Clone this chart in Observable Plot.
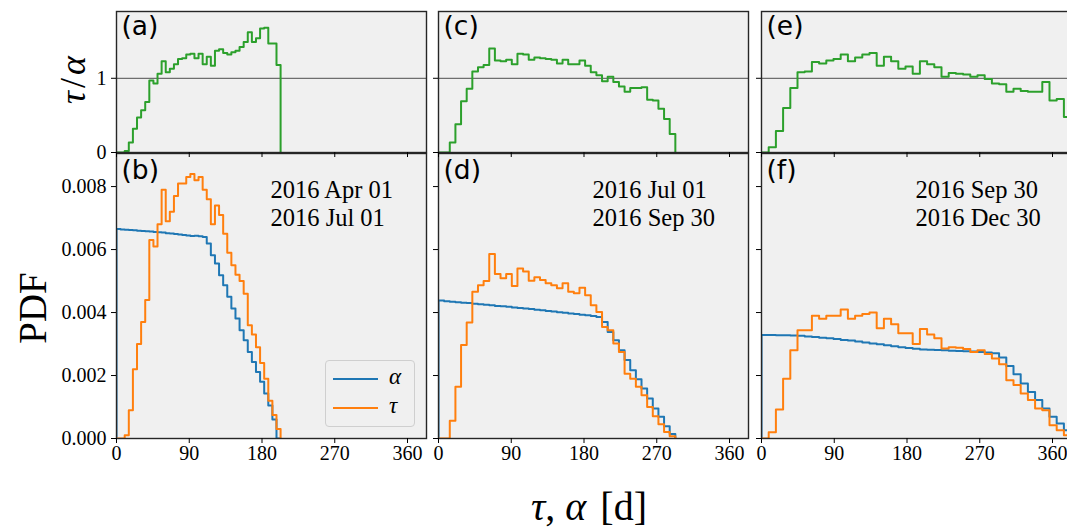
<!DOCTYPE html>
<html>
<head>
<meta charset="utf-8">
<script src="https://cdn.jsdelivr.net/npm/d3@7"></script>
<script src="https://cdn.jsdelivr.net/npm/@observablehq/plot@0.6"></script>
<style>
  body { margin: 0; background: #fff; }
  #fig { position: relative; width: 1067px; height: 529px; overflow: hidden; background: #fff; }
  #fig svg { position: absolute; overflow: visible; }
  .lbl { position: absolute; font-family: "Liberation Serif", serif; color: #000; white-space: nowrap; line-height: 1; }
  .legend { position: absolute; border: 1px solid #cfcfcf; border-radius: 4px; background: rgba(240,240,240,0.85); box-sizing: border-box; }
  .legend .sw { position: absolute; height: 0; border-top: 2px solid; }
  .legend .tx { position: absolute; font-family: "Liberation Serif", serif; font-style: italic; font-size: 23px; line-height: 1; }
</style>
</head>
<body>
<div id="fig"></div>
<script>
// ---------------- data ----------------
const xTicks = [0, 90, 180, 270, 360];
const ratioTicks = [0, 1];
const pdfTicks = [0, 0.002, 0.004, 0.006, 0.008];
const panelLetters = ["(a)", "(b)", "(c)", "(d)", "(e)", "(f)"];
const dateStart = ["2016 Apr 01", "2016 Jul 01", "2016 Sep 30"];
const dateEnd = ["2016 Jul 01", "2016 Sep 30", "2016 Dec 30"];
const seriesNames = ["α", "τ"];
// right end of the histogram range, in days, for each column
const tauMax = [203, 293, 383];
const xMax = 383.5;

// column 1 : (a) ratio, (b) PDFs
const ratioA = [0, 0, 0.02, 0.135, 0.32, 0.47, 0.57, 0.68, 0.97, 0.93,
  1.06, 1.23, 1.08, 1.13, 1.19, 1.26, 1.27, 1.32, 1.33, 1.27,
  1.33, 1.19, 1.29, 1.17, 1.37, 1.39, 1.34, 1.32, 1.35, 1.37,
  1.42, 1.49, 1.62, 1.49, 1.54, 1.67, 1.68, 1.47, 1.47, 1.18];
const alphaB = [0.00665, 0.00664, 0.00663, 0.00662, 0.00661, 0.00660, 0.00659, 0.00658, 0.00657, 0.00656,
  0.00655, 0.00654, 0.00652, 0.00651, 0.00649, 0.00648, 0.00646, 0.00645, 0.00643, 0.00644,
  0.00642, 0.00640, 0.00619, 0.00582, 0.00556, 0.00518, 0.00487, 0.00450, 0.00413, 0.00381,
  0.00344, 0.00312, 0.00275, 0.00243, 0.00211, 0.00180, 0.00143, 0.00105, 0.00060, 0];
const tauB = [0, 0, 0.0001, 0.0009, 0.0022, 0.0030, 0.0037, 0.0044, 0.0063, 0.0061,
  0.0068, 0.0079, 0.0069, 0.0072, 0.0077, 0.0081, 0.0081, 0.0083, 0.0084, 0.0082,
  0.0083, 0.0079, 0.0076, 0.0068, 0.0074, 0.0071, 0.0065, 0.0059, 0.0055, 0.0052,
  0.0050, 0.0046, 0.0036, 0.0033, 0.0029, 0.0024, 0.0019, 0.0012, 0.00075, 0.0003];

// column 2 : (c) ratio, (d) PDFs
const ratioC = [0, 0, 0.135, 0.38, 0.69, 0.86, 1.09, 1.15, 1.18, 1.40,
  1.24, 1.23, 1.25, 1.19, 1.33, 1.32, 1.25, 1.28, 1.27, 1.26,
  1.25, 1.20, 1.25, 1.19, 1.19, 1.24, 1.17, 1.08, 1.04, 0.96,
  1.02, 0.95, 0.89, 0.82, 0.87, 0.87, 0.88, 0.71, 0.70, 0.59,
  0.45, 0.25];
const alphaD = [0.00438, 0.00436, 0.00434, 0.00433, 0.00431, 0.00430, 0.00428, 0.00426, 0.00425, 0.00423,
  0.00421, 0.00420, 0.00418, 0.00416, 0.00414, 0.00413, 0.00411, 0.00409, 0.00407, 0.00405,
  0.00403, 0.00401, 0.00399, 0.00397, 0.00395, 0.00393, 0.00391, 0.00389, 0.00386, 0.00370,
  0.00338, 0.00312, 0.00280, 0.00249, 0.00217, 0.00188, 0.00159, 0.00127, 0.00095, 0.00069,
  0.00039, 0.00014];
const tauD = [0, 0, 0.00056, 0.00164, 0.00297, 0.00368, 0.00466, 0.00487, 0.00500, 0.00586,
  0.00522, 0.00509, 0.00522, 0.00484, 0.00540, 0.00530, 0.00501, 0.00512, 0.00503, 0.00493,
  0.00487, 0.00477, 0.00493, 0.00466, 0.00461, 0.00479, 0.00455, 0.00423, 0.00402, 0.00354,
  0.00344, 0.00302, 0.00275, 0.00206, 0.00190, 0.00164, 0.00137, 0.00100, 0.00071, 0.00045,
  0.00021, 0.00007];

// column 3 : (e) ratio, (f) PDFs
const ratioE = [0, 0.07, 0.29, 0.60, 0.87, 1.08, 1.09, 1.22, 1.20, 1.24,
  1.26, 1.32, 1.23, 1.28, 1.32, 1.34, 1.17, 1.29, 1.23, 1.13,
  1.16, 1.06, 1.23, 1.19, 1.15, 1.02, 1.07, 1.06, 1.05, 1.02,
  1.04, 0.99, 0.93, 0.92, 0.82, 0.86, 0.83, 0.82, 0.82, 0.95,
  0.70, 0.72, 0.48];
const alphaF = [0.00329, 0.00329, 0.00328, 0.00328, 0.00327, 0.00326, 0.00324, 0.00322, 0.00320, 0.00318,
  0.00316, 0.00313, 0.00311, 0.00308, 0.00305, 0.00302, 0.00299, 0.00296, 0.00293, 0.00290,
  0.00287, 0.00285, 0.00283, 0.00282, 0.00281, 0.00280, 0.00279, 0.00278, 0.00277, 0.00276,
  0.00275, 0.00273, 0.00271, 0.00257, 0.00230, 0.00204, 0.00175, 0.00148, 0.00122, 0.00095,
  0.00069, 0.00048, 0.00026];
const tauF = [0, 0.0002, 0.00092, 0.0019, 0.0028, 0.00344, 0.00344, 0.0039, 0.0038, 0.0039,
  0.0039, 0.0041, 0.0038, 0.0039, 0.00395, 0.0040, 0.0035, 0.0038, 0.00363, 0.00334,
  0.00334, 0.0030, 0.00348, 0.0033, 0.00318, 0.00286, 0.0029, 0.00288, 0.00284, 0.00275,
  0.0028, 0.00268, 0.00254, 0.00236, 0.00185, 0.0017, 0.00143, 0.00122, 0.00095, 0.0009,
  0.00042, 0.00026, 0.0001];

const ratioSeries = [ratioA, ratioC, ratioE];
const alphaSeries = [alphaB, alphaD, alphaF];
const tauSeries = [tauB, tauD, tauF];

// ---------------- drawing ----------------
const COLORS = { alpha: "#1f77b4", tau: "#ff7f0e", ratio: "#2ca02c" };
const fig = document.getElementById("fig");
const colLeft = [116, 438, 761];
const panelW = 310;
const rows = [{ top: 11, h: 141 }, { top: 153, h: 285 }];

// matplotlib "step" histogram outline
function stepPoints(values, tMax) {
  const w = tMax / values.length;
  const pts = [{ x: 0, y: 0 }];
  values.forEach((v, i) => pts.push({ x: i * w, y: v }));
  pts.push({ x: values.length * w, y: 0 });
  return pts;
}

function drawPanel(col, row) {
  const ml = 72, mr = 12, mt = 12, mb = 40;
  const { top, h } = rows[row];
  const isRatio = row === 0;
  const yDomain = isRatio ? [0, 1.9] : [0, 0.00905];
  const yTicks = isRatio ? ratioTicks : pdfTicks;
  const yFmt = isRatio ? d3.format("d") : d3.format(".3f");
  const lines = isRatio
    ? [{ v: ratioSeries[col], c: COLORS.ratio }]
    : [{ v: alphaSeries[col], c: COLORS.alpha }, { v: tauSeries[col], c: COLORS.tau }];

  const marks = [
    Plot.frame({ fill: "#f0f0f0", stroke: null }),
    isRatio ? Plot.ruleY([1], { stroke: "#6e6e6e", strokeWidth: 1.2 }) : null,
    ...lines.map(s => Plot.line(stepPoints(s.v, tauMax[col]), {
      x: "x", y: "y", stroke: s.c, strokeWidth: 2, curve: "step-after", clip: true
    })),
    Plot.frame({ stroke: "#262626", strokeWidth: 1.4 }),
    Plot.axisX({
      ticks: xTicks, tickSize: 5, tickPadding: 2, label: null,
      tickFormat: isRatio ? () => "" : d3.format("d")
    }),
    Plot.axisY({
      ticks: yTicks, tickSize: 5, tickPadding: 5, label: null,
      tickFormat: col === 0 ? yFmt : () => ""
    }),
    Plot.text([panelLetters[col * 2 + row]], {
      frameAnchor: "top-left", dx: 5, dy: isRatio ? 5 : 7, lineAnchor: "top", textAnchor: "start",
      fontFamily: "DejaVu Sans, sans-serif", fontSize: 26.5, fill: "#000"
    })
  ];
  if (!isRatio) {
    marks.push(Plot.text([dateStart[col] + "\n" + dateEnd[col]], {
      frameAnchor: "top-left", dx: 154, dy: 24, lineAnchor: "top", textAnchor: "start",
      lineHeight: 1.16, fontSize: 24.5, fill: "#000"
    }));
  }

  const chart = Plot.plot({
    width: ml + panelW + mr,
    height: mt + h + mb,
    marginLeft: ml, marginRight: mr, marginTop: mt, marginBottom: mb,
    x: { domain: [0, xMax], label: null },
    y: { domain: yDomain, label: null },
    style: {
      fontFamily: '"Liberation Serif", serif', fontSize: "20px", color: "#000",
      background: "transparent", overflow: "visible"
    },
    marks
  });
  chart.style.left = (colLeft[col] - ml) + "px";
  chart.style.top = (top - mt) + "px";
  fig.append(chart);
}

// bottom row first so the top row's x ticks sit over the seam
for (let c = 0; c < 3; c++) drawPanel(c, 1);
for (let c = 0; c < 3; c++) drawPanel(c, 0);

// legend in panel (b)
const lg = document.createElement("div");
lg.className = "legend";
Object.assign(lg.style, { left: "325px", top: "360px", width: "90px", height: "67px" });
[COLORS.alpha, COLORS.tau].forEach((c, i) => {
  const sw = document.createElement("div");
  sw.className = "sw";
  Object.assign(sw.style, { left: "7px", width: "45px", top: (17 + i * 29) + "px", borderTopColor: c });
  lg.append(sw);
  const tx = document.createElement("div");
  tx.className = "tx";
  tx.textContent = seriesNames[i];
  Object.assign(tx.style, { left: "63px", top: (4 + i * 29) + "px" });
  lg.append(tx);
});
fig.append(lg);

// axis titles
function label(html, x, y, size, rotate) {
  const d = document.createElement("div");
  d.className = "lbl";
  d.innerHTML = html;
  d.style.fontSize = size + "px";
  d.style.left = x + "px";
  d.style.top = y + "px";
  d.style.transform = "translate(-50%,-50%)" + (rotate ? " rotate(-90deg)" : "");
  fig.append(d);
}
label("<i>τ</i><span style='margin:0 3px'>/</span><i>α</i>", 73, 80, 36, true);
label("PDF", 32, 308, 39, true);
label("<i>τ</i>, <i>α</i> <span style='margin-left:4px'>[d]</span>", 589, 507, 40, false);
</script>
</body>
</html>
